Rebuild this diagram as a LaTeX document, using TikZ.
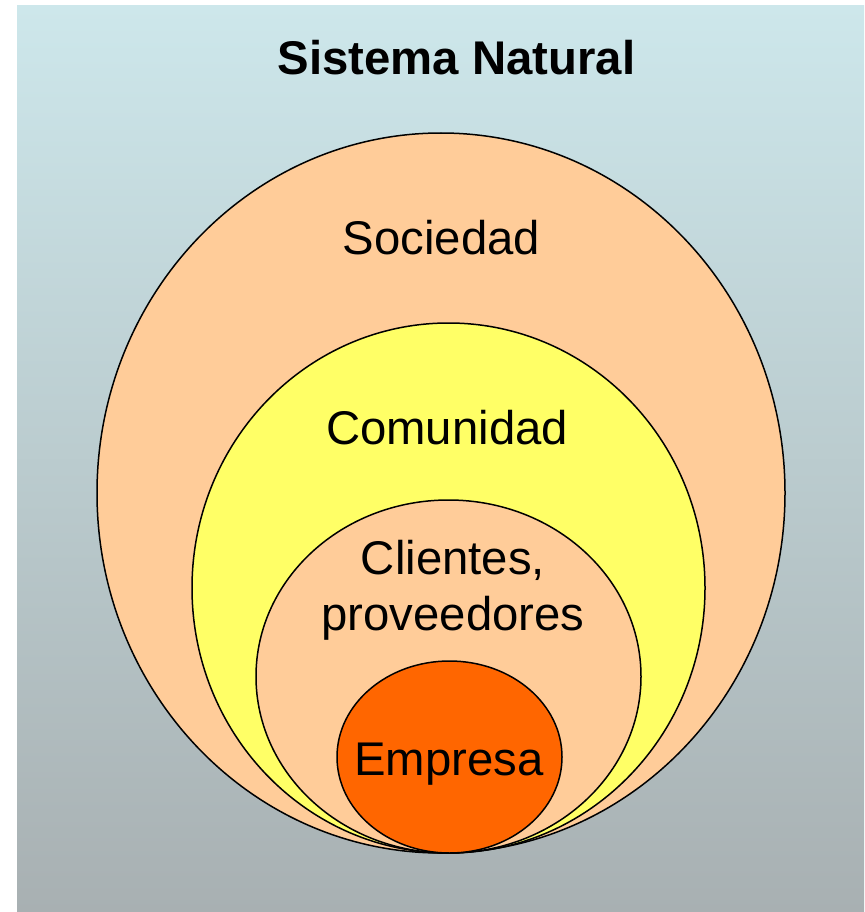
\documentclass[tikz,border=0pt]{standalone}
\usepackage{fontspec}
\setmainfont{Liberation Sans}
\usepackage{xcolor}
\usepackage{tikz}
\usetikzlibrary{shapes.geometric}
\definecolor{skytop}{HTML}{CDE7EB}
\definecolor{skybot}{HTML}{A8B0B2}
\definecolor{peach}{HTML}{FFCC99}
\definecolor{lemon}{HTML}{FFFF66}
\definecolor{flame}{HTML}{FF6600}

\begin{document}
\begin{tikzpicture}[x=1pt,y=-1pt,
    every node/.style={font=\fontsize{47.3}{56}\selectfont},
    ring/.style={draw=black,line width=1.5pt,ellipse,inner sep=0pt},
    tag/.style={anchor=base,align=center}]
    \useasboundingbox (0,0) rectangle (864,912);
    \shade[top color=skytop,bottom color=skybot] (17,6) rectangle (864,912);
    % nested circles, all touching at the bottom
    \node[ring,fill=peach,minimum width=688,minimum height=720] (sociedad) at (441,493) {};
    \node[ring,fill=lemon,minimum width=513,minimum height=530] (comunidad) at (448.5,588) {};
    \node[ring,fill=peach,minimum width=385,minimum height=353] (clientes) at (448.5,676.5) {};
    \node[ring,fill=flame,minimum width=225,minimum height=192] (empresa) at (449.5,757) {};
    % texts
    \node[tag,font=\fontsize{47.3}{56}\selectfont\bfseries] (titulo) at (456.5,75) {Sistema Natural};
    \node[tag] (tsociedad) at (441.5,254) {Sociedad};
    \node[tag] (tcomunidad) at (447,444) {Comunidad};
    \node[tag] (tclientes) at (453,630) {Clientes,\\proveedores};
    \node[tag] (tempresa) at (449,775) {Empresa};
  \end{tikzpicture}
\end{document}
